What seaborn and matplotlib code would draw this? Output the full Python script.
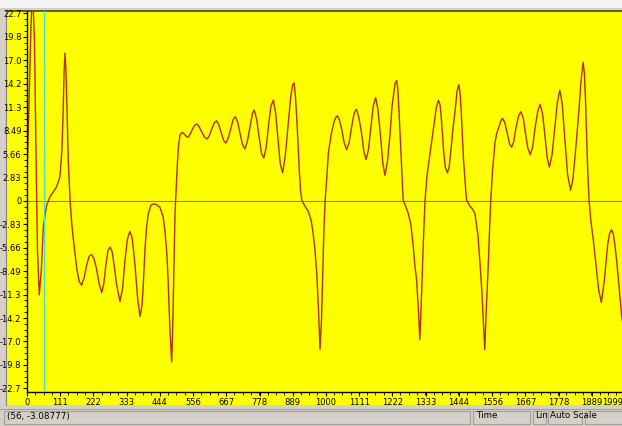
import matplotlib
matplotlib.use("Agg")
import matplotlib.pyplot as plt
import matplotlib.transforms as mtransforms
import seaborn as sns
import pandas as pd
from matplotlib.patches import Rectangle
from matplotlib.ticker import AutoMinorLocator

# signal samples (time, value)
time = [
    0, 7, 13, 18, 25, 30, 35, 41, 48, 55, 66, 77, 88, 99, 110, 117, 121, 124,
    127, 130, 133, 138, 144, 150, 157, 167, 175, 183, 191, 200, 208, 216, 224,
    233, 241, 250, 257, 264, 271, 278, 285, 291, 300, 311, 320, 328, 336, 344,
    352, 361, 370, 378, 384, 388, 395, 400, 406, 415, 422, 430, 435, 445, 455,
    461, 468, 472, 478, 484, 488, 492, 495, 499, 503, 507, 512, 519, 526, 533,
    539, 546, 555, 562, 569, 577, 585, 594, 603, 611, 619, 627, 634, 642, 650,
    658, 665, 673, 682, 690, 697, 705, 713, 721, 729, 737, 746, 754, 760, 768,
    776, 784, 792, 800, 808, 816, 824, 831, 839, 847, 855, 864, 873, 882, 888,
    893, 898, 903, 907, 911, 915, 919, 926, 934, 941, 950, 957, 963, 969, 975,
    980, 985, 989, 993, 997, 1002, 1008, 1017, 1027, 1033, 1038, 1045, 1053,
    1061, 1069, 1077, 1085, 1094, 1102, 1110, 1119, 1127, 1134, 1142, 1150,
    1158, 1166, 1174, 1182, 1190, 1197, 1205, 1214, 1221, 1226, 1231, 1236,
    1240, 1244, 1248, 1251, 1255, 1258, 1266, 1275, 1284, 1292, 1297, 1303,
    1309, 1314, 1319, 1325, 1331, 1338, 1348, 1355, 1361, 1369, 1376, 1381,
    1385, 1393, 1399, 1406, 1412, 1418, 1425, 1432, 1438, 1444, 1448, 1452,
    1456, 1460, 1465, 1470, 1481, 1490, 1498, 1508, 1515, 1521, 1526, 1531,
    1536, 1543, 1547, 1551, 1557, 1565, 1571, 1577, 1584, 1590, 1598, 1606,
    1614, 1621, 1628, 1635, 1644, 1652, 1660, 1667, 1675, 1683, 1691, 1699,
    1708, 1716, 1724, 1732, 1740, 1747, 1756, 1766, 1774, 1782, 1790, 1799,
    1808, 1818, 1825, 1832, 1839, 1846, 1853, 1860, 1864, 1868, 1871, 1874,
    1877, 1880, 1886, 1894, 1903, 1912, 1921, 1931, 1942, 1948, 1955, 1961,
    1966, 1972, 1978, 1989, 1999,
]
value = [
    2.9, 12.2, 20.7, 26.0, 19.5, 6.2, -5.9, -11.4, -8.3, -2.9, -0.5, 0.5, 1.1,
    1.7, 2.9, 6.2, 11.0, 15.6, 17.9, 16.0, 12.2, 5.0, 0.1, -2.9, -5.3, -8.3,
    -9.8, -10.2, -9.3, -7.7, -6.7, -6.5, -7.0, -8.3, -10.0, -11.1, -10.0, -7.7,
    -6.0, -5.6, -6.2, -7.7, -10.2, -12.2, -10.5, -7.1, -4.6, -3.7, -4.5, -7.7,
    -11.8, -14.0, -12.8, -10.8, -5.6, -3.2, -1.5, -0.5, -0.4, -0.4, -0.5,
    -0.8, -1.9, -3.5, -6.5, -9.6, -15.6, -19.5, -14.4, -7.1, -1.5, 1.5, 4.5,
    6.8, 8.0, 8.3, 8.1, 7.8, 7.7, 8.1, 8.8, 9.2, 9.3, 8.9, 8.3, 7.7, 7.5, 8.0,
    8.8, 9.5, 9.7, 9.2, 8.2, 7.3, 7.0, 7.6, 8.8, 9.9, 10.2, 9.5, 8.1, 6.8, 6.3,
    7.2, 9.0, 10.6, 11.0, 9.9, 7.8, 5.8, 5.2, 6.5, 9.2, 11.5, 12.2, 10.8, 7.6,
    4.5, 3.4, 5.5, 9.0, 12.6, 14.0, 14.3, 12.6, 9.5, 6.5, 3.5, 1.2, 0.1, -0.4,
    -0.9, -1.3, -2.3, -3.9, -5.9, -8.7, -13.2, -18.0, -14.4, -8.7, -3.5, 0.0,
    2.5, 5.8, 8.0, 9.6, 10.1, 10.3, 9.8, 8.6, 7.0, 6.2, 7.0, 8.8, 10.6, 11.1,
    10.1, 8.2, 5.9, 5.0, 6.2, 8.9, 11.5, 12.5, 11.0, 8.0, 4.6, 3.1, 4.6, 8.0,
    11.5, 12.9, 14.2, 14.6, 13.6, 11.0, 8.0, 5.6, 2.5, 0.1, -0.6, -1.5, -2.9,
    -5.6, -7.7, -9.6, -13.2, -16.8, -12.0, -5.6, 0.0, 3.1, 5.8, 7.6, 9.2, 11.3,
    12.2, 11.7, 10.4, 6.2, 4.1, 3.4, 4.1, 6.2, 8.9, 11.0, 13.2, 14.1, 13.2,
    11.0, 8.0, 5.0, 2.4, 0.1, -0.6, -1.0, -1.5, -4.1, -7.5, -10.8, -14.4,
    -18.0, -13.2, -7.5, -3.5, 0.0, 3.7, 7.0, 8.2, 8.8, 9.6, 10.0, 9.5, 8.2,
    6.9, 6.5, 7.2, 8.8, 10.3, 10.8, 10.0, 8.2, 6.4, 5.6, 6.5, 8.8, 10.8, 11.7,
    10.6, 8.0, 5.2, 4.1, 5.6, 9.2, 12.0, 13.4, 11.8, 7.4, 3.2, 1.3, 2.4, 5.0,
    7.9, 11.0, 14.5, 16.8, 15.5, 12.2, 8.5, 5.0, 2.2, 0.0, -2.5, -4.7, -7.7,
    -10.8, -12.3, -9.6, -5.3, -4.0, -3.5, -4.0, -5.3, -7.2, -9.6, -14.0, -16.5,
]

x_ticks = [0, 111, 222, 333, 444, 556, 667, 778, 889, 1000, 1111, 1222,
           1333, 1444, 1556, 1667, 1778, 1889, 1999]
y_labels = ["-22.7", "-19.8", "-17.0", "-14.2", "-11.3", "-8.49", "-5.66",
            "-2.83", "0", "2.83", "5.66", "8.49", "11.3", "14.2", "17.0",
            "19.8", "22.7"]
cursor_time = 56
status_text = "(56, -3.08777)"

df = pd.DataFrame({"time": time, "value": value})

NARROW = ["Liberation Sans Narrow", "DejaVu Sans"]

W, H = 622, 426
fig = plt.figure(figsize=(W / 100, H / 100), dpi=100)
fig.patch.set_facecolor("#d4d0c8")

# window chrome: white strip on top, yellow chart panel, status bar
fig.add_artist(Rectangle((0, 1 - 8 / H), 1, 8 / H, transform=fig.transFigure,
                         facecolor="#f4f4f4", edgecolor="none", zorder=-10))
fig.add_artist(Rectangle((6 / W, 1 - 405 / H), 1, (405 - 10) / H,
                         transform=fig.transFigure, facecolor="#ffff00",
                         edgecolor="none", zorder=-10))
fig.add_artist(plt.Line2D([6 / W, 1], [1 - 10.5 / H] * 2, transform=fig.transFigure,
                          color="#404040", lw=1.2, zorder=-5))
fig.add_artist(plt.Line2D([5.5 / W] * 2, [1 - 405 / H, 1 - 10 / H],
                          transform=fig.transFigure, color="#808080", lw=0.8,
                          zorder=-5))
fig.add_artist(plt.Line2D([0, 1], [1 - 408.5 / H] * 2, transform=fig.transFigure,
                          color="#a0a0a0", lw=0.8, zorder=-5))

# status bar cells
cells = [(4, 470), (473, 530), (533, 546), (548, 582), (585, 640)]
for x0, x1 in cells:
    fig.add_artist(Rectangle((x0 / W, 1 - 424 / H), (x1 - x0) / W, 13 / H,
                             transform=fig.transFigure, facecolor="none",
                             edgecolor="#a0a0a0", lw=0.8, zorder=-5))
for xp, txt in [(7, status_text), (476, "Time"), (535, "Lin"),
                (550, "Auto Scale")]:
    fig.text(xp / W, 1 - 416 / H, txt, fontsize=6.3, va="center", ha="left",
             family=NARROW)

# plot area (extends a little past the right edge of the window)
ax = fig.add_axes([27 / W, 1 - 392 / H, 598 / W, 381 / H])
ax.set_facecolor("none")

sns.lineplot(data=df, x="time", y="value", ax=ax, sort=False, estimator=None,
             color="#b03010", lw=1.0)
ax.axhline(0, color="#808060", lw=0.8, zorder=1)
ax.axvline(cursor_time, color="#40e0d0", lw=1.0, zorder=3)

ax.set_xlim(0, 2000)
ax.set_ylim(-23.15, 23.0)

ax.set_xticks(x_ticks)
ax.set_xticklabels([str(t) for t in x_ticks])
ax.xaxis.set_minor_locator(AutoMinorLocator(4))
y_pos = [k * 22.7 / 8 for k in range(-8, 9)]
ax.set_yticks(y_pos)
ax.set_yticklabels(y_labels)
ax.yaxis.set_minor_locator(AutoMinorLocator(4))

ax.tick_params(axis="both", which="major", direction="out", length=3,
               width=0.8, labelsize=6, pad=1, colors="black")
ax.tick_params(axis="both", which="minor", direction="out", length=2,
               width=0.6)
for lab in ax.get_xticklabels() + ax.get_yticklabels():
    lab.set_family(NARROW)

# the last x label is pulled in so it stays inside the window
last = ax.get_xticklabels()[-1]
last.set_horizontalalignment("right")
last.set_transform(last.get_transform() +
                   mtransforms.ScaledTranslation(-2 / 100, 0, fig.dpi_scale_trans))
ax.set_xlabel("")
ax.set_ylabel("")

for side in ["top", "right"]:
    ax.spines[side].set_visible(False)
for side in ["left", "bottom"]:
    ax.spines[side].set_color("black")
    ax.spines[side].set_linewidth(1.0)

plt.savefig("out.png", dpi=100, facecolor=fig.get_facecolor())
plt.close()
